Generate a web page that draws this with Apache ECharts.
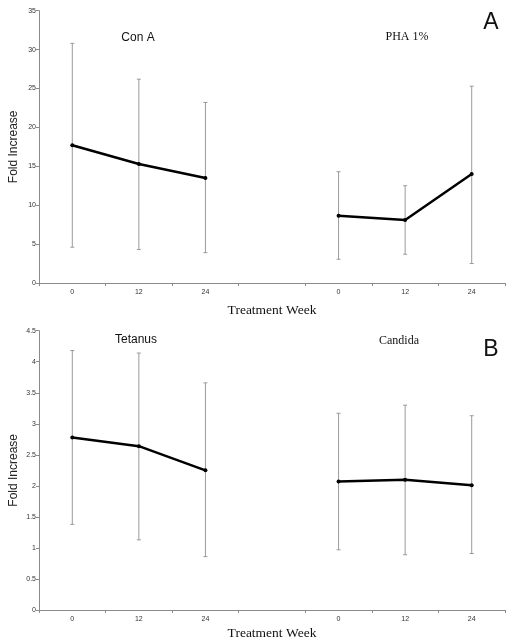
<!DOCTYPE html>
<html>
<head>
<meta charset="utf-8">
<script src="https://cdn.jsdelivr.net/npm/echarts@6/dist/echarts.min.js"></script>
<style>html,body{margin:0;padding:0;background:#fff}#c{width:512px;height:642px}</style>
</head>
<body>
<div id="c"></div>
<script>
const weeks = ['0', '12', '24', '', '0', '12', '24'];
const topTicks = {min: 0, max: 35, interval: 5};
const botTicks = {min: 0, max: 4.5, interval: 0.5};

const conA_mean = [17.7, 15.3, 13.5];
const conA_hi = [30.8, 26.2, 23.2];
const conA_lo = [4.6, 4.3, 3.9];

const pha_mean = [8.65, 8.1, 14.0];
const pha_hi = [14.3, 12.5, 25.3];
const pha_lo = [3.05, 3.7, 2.5];

const tet_mean = [2.78, 2.64, 2.25];
const tet_hi = [4.18, 4.14, 3.66];
const tet_lo = [1.38, 1.13, 0.86];

const can_mean = [2.07, 2.10, 2.01];
const can_hi = [3.17, 3.30, 3.13];
const can_lo = [0.97, 0.89, 0.91];

const chart = echarts.init(document.getElementById('c'), null, {renderer: 'canvas'});

const axisGray = '#8a8a8a';
const labelStyle = {fontSize: 7, color: '#333', fontFamily: 'Liberation Sans, Arial, sans-serif'};

function xAxisCfg(grid, gap) {
  return {
    type: 'category', gridIndex: grid, data: weeks, boundaryGap: true,
    axisLine: {lineStyle: {color: axisGray, width: 1}},
    axisTick: {show: true, length: 3, lineStyle: {color: axisGray}},
    axisLabel: Object.assign({margin: 6, interval: 0}, labelStyle),
    name: 'Treatment Week', nameLocation: 'middle', nameGap: gap, nameMoveOverlap: false,
    nameTextStyle: {fontSize: 13.5, color: '#111', fontFamily: 'Liberation Serif, Times New Roman, serif'}
  };
}
function yAxisCfg(grid, t) {
  return {
    type: 'value', gridIndex: grid, min: t.min, max: t.max, interval: t.interval,
    axisLine: {show: true, lineStyle: {color: axisGray, width: 1}},
    axisTick: {show: true, length: 3, lineStyle: {color: axisGray}},
    splitLine: {show: false},
    axisLabel: Object.assign({margin: 3}, labelStyle),
    name: 'Fold Increase', nameLocation: 'middle', nameGap: 19, nameRotate: 90, nameMoveOverlap: false,
    nameTextStyle: {fontSize: 12, color: '#222', fontFamily: 'Liberation Sans, Arial, sans-serif'}
  };
}

function errSeries(grid, offset, lo, hi) {
  return {
    type: 'custom', xAxisIndex: grid, yAxisIndex: grid,
    data: lo.map((v, i) => [i + offset, v, hi[i]]),
    renderItem: function (params, api) {
      const x = api.value(0);
      const p1 = api.coord([x, api.value(1)]);
      const p2 = api.coord([x, api.value(2)]);
      const w = 2;
      const st = {stroke: '#9a9a9a', lineWidth: 1};
      return {
        type: 'group',
        children: [
          {type: 'line', shape: {x1: p1[0], y1: p1[1], x2: p2[0], y2: p2[1]}, style: st},
          {type: 'line', shape: {x1: p1[0] - w, y1: p1[1], x2: p1[0] + w, y2: p1[1]}, style: st},
          {type: 'line', shape: {x1: p2[0] - w, y1: p2[1], x2: p2[0] + w, y2: p2[1]}, style: st}
        ]
      };
    },
    z: 1
  };
}
function lineSeries(grid, offset, mean) {
  return {
    type: 'line', xAxisIndex: grid, yAxisIndex: grid,
    data: mean.map((v, i) => [i + offset, v]),
    symbol: 'circle', symbolSize: 4,
    itemStyle: {color: '#000'},
    lineStyle: {color: '#000', width: 2.5},
    z: 3, animation: false
  };
}

const sans = 'Liberation Sans, Arial, sans-serif';
const serif = 'Liberation Serif, Times New Roman, serif';

chart.setOption({
  animation: false,
  grid: [
    {left: 39, right: 7, top: 10.7, height: 272.3, outerBoundsMode: 'none', containLabel: false},
    {left: 39, right: 7, top: 330.7, height: 279.3, outerBoundsMode: 'none', containLabel: false}
  ],
  xAxis: [xAxisCfg(0, 20), xAxisCfg(1, 16)],
  yAxis: [yAxisCfg(0, topTicks), yAxisCfg(1, botTicks)],
  series: [
    errSeries(0, 0, conA_lo, conA_hi),
    errSeries(0, 4, pha_lo, pha_hi),
    lineSeries(0, 0, conA_mean),
    lineSeries(0, 4, pha_mean),
    errSeries(1, 0, tet_lo, tet_hi),
    errSeries(1, 4, can_lo, can_hi),
    lineSeries(1, 0, tet_mean),
    lineSeries(1, 4, can_mean)
  ],
  graphic: [
    {type: 'text', x: 138, y: 38, style: {text: 'Con A', fontSize: 12, fontFamily: sans, fill: '#111', align: 'center', verticalAlign: 'middle'}},
    {type: 'text', x: 407, y: 37, style: {text: 'PHA 1%', fontSize: 12, fontFamily: serif, fill: '#111', align: 'center', verticalAlign: 'middle'}},
    {type: 'text', x: 491, y: 23, style: {text: 'A', fontSize: 23, fontFamily: sans, fill: '#111', align: 'center', verticalAlign: 'middle'}},
    {type: 'text', x: 136, y: 340, style: {text: 'Tetanus', fontSize: 12, fontFamily: sans, fill: '#111', align: 'center', verticalAlign: 'middle'}},
    {type: 'text', x: 399, y: 341, style: {text: 'Candida', fontSize: 12, fontFamily: serif, fill: '#111', align: 'center', verticalAlign: 'middle'}},
    {type: 'text', x: 491, y: 350, style: {text: 'B', fontSize: 23, fontFamily: sans, fill: '#111', align: 'center', verticalAlign: 'middle'}}
  ]
});
</script>
</body>
</html>
